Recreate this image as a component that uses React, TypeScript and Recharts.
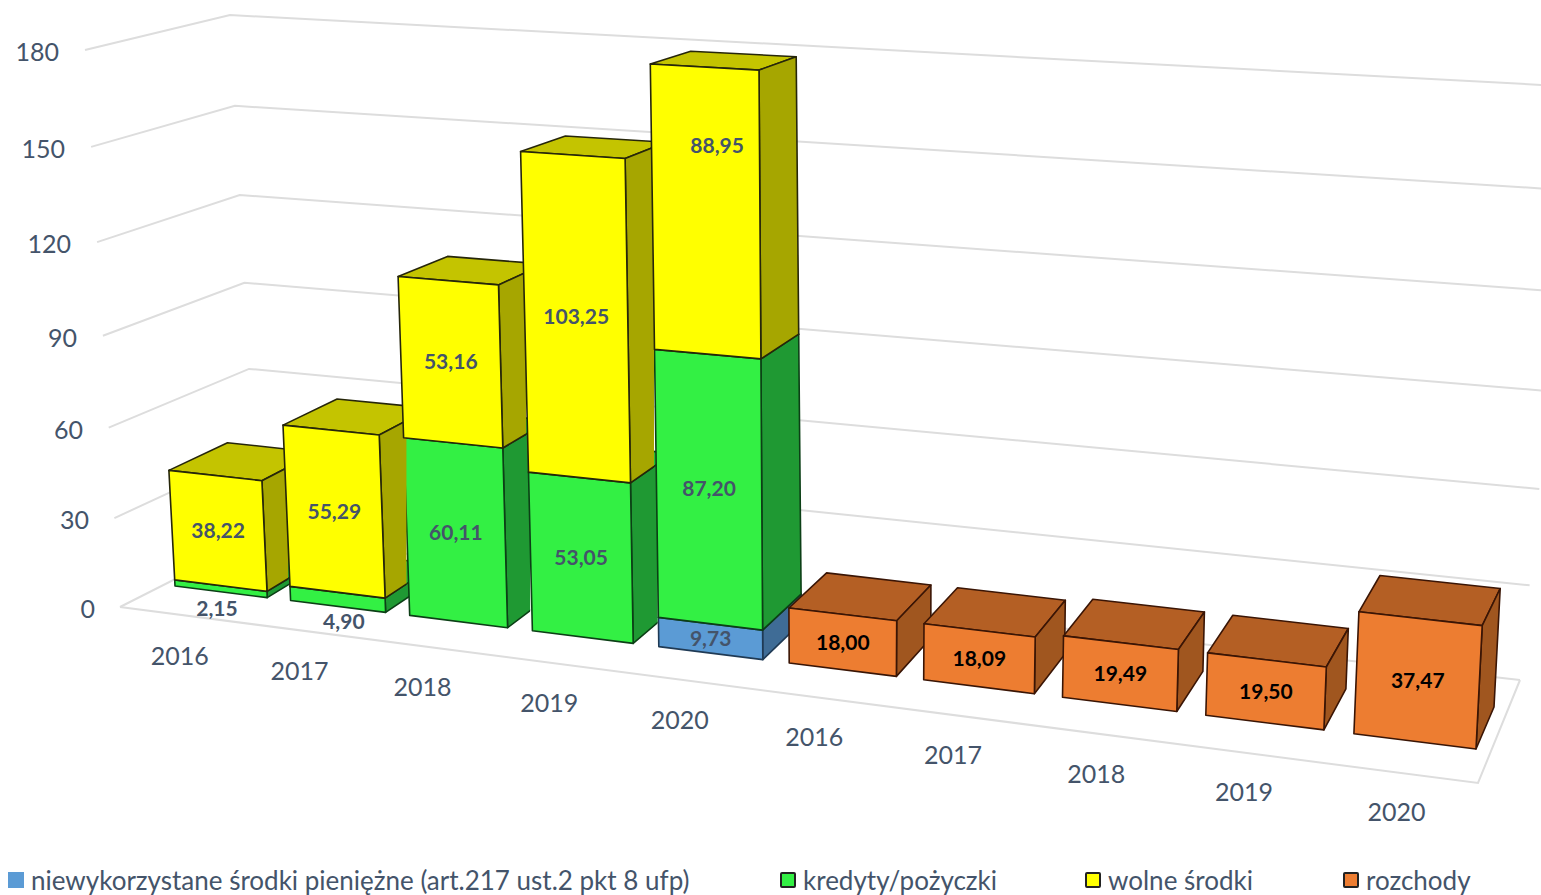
import React from 'react';
import { BarChart, Bar, XAxis, YAxis, CartesianGrid, Legend } from 'recharts';

const years = ['2016', '2017', '2018', '2019', '2020', '2016', '2017', '2018', '2019', '2020'];
const niewykorzystane = [null, null, null, null, 9.73, null, null, null, null, null];
const kredyty = [2.15, 4.9, 60.11, 53.05, 87.2, null, null, null, null, null];
const wolne = [38.22, 55.29, 53.16, 103.25, 88.95, null, null, null, null, null];
const rozchody = [null, null, null, null, null, 18.0, 18.09, 19.49, 19.5, 37.47];
const yTicks = [0, 30, 60, 90, 120, 150, 180];

const data = years.map((year, i) => ({
  year,
  niewykorzystane: niewykorzystane[i],
  kredyty: kredyty[i],
  wolne: wolne[i],
  rozchody: rozchody[i],
}));

const TEXT = '#44546A';
const GRID = '#DDDDDD';
const FONT = 'Lato, "Open Sans", sans-serif';

// flat plot area of the chart (what the recharts scales give us)
const PLOT_LEFT = 114;
const PLOT_WIDTH = 1372;
const PLOT_BOTTOM = 608;
const PLOT_HEIGHT = 556; // 0..180

type Pt = [number, number];

// square -> quad projective map, corners: bottom left, bottom right, top right, top left
const makeHomography = ([p0, p1, p2, p3]: Pt[]) => {
  const dx1 = p1[0] - p2[0];
  const dx2 = p3[0] - p2[0];
  const sx = p0[0] - p1[0] + p2[0] - p3[0];
  const dy1 = p1[1] - p2[1];
  const dy2 = p3[1] - p2[1];
  const sy = p0[1] - p1[1] + p2[1] - p3[1];
  const den = dx1 * dy2 - dx2 * dy1;
  const g = (sx * dy2 - dx2 * sy) / den;
  const h = (dx1 * sy - sx * dy1) / den;
  const a = p1[0] - p0[0] + g * p1[0];
  const b = p3[0] - p0[0] + h * p3[0];
  const d = p1[1] - p0[1] + g * p1[1];
  const e = p3[1] - p0[1] + h * p3[1];
  return (x: number, y: number): Pt => {
    const s = (x - PLOT_LEFT) / PLOT_WIDTH;
    const t = (PLOT_BOTTOM - y) / PLOT_HEIGHT;
    const w = g * s + h * t + 1;
    return [(a * s + b * t + p0[0]) / w, (d * s + e * t + p0[1]) / w];
  };
};

const front = makeHomography([[175, 586], [1476, 749], [1507, 133], [147, 54]]);
const back = makeHomography([[234, 553], [1494, 707], [1525, 114], [204, 44]]);

// walls: one edge per corner of the room, bottom -> top
const wallEdges: [Pt, Pt][] = [
  [[120, 607], [85, 50]],
  [[258, 537], [230, 15]],
  [[1520, 680], [1580, 87]],
];
const warp = (t: number) => (t * 0.95) / (1 - 0.05 * t);
const wallPoint = (edge: [Pt, Pt], flatY: number): Pt => {
  const t = warp((PLOT_BOTTOM - flatY) / PLOT_HEIGHT);
  return [edge[0][0] + (edge[1][0] - edge[0][0]) * t, edge[0][1] + (edge[1][1] - edge[0][1]) * t];
};

const pts = (list: Pt[]) => list.map((p) => `${p[0].toFixed(1)},${p[1].toFixed(1)}`).join(' ');

const GridLine = (props: any) => {
  const { y1, index } = props;
  const line = wallEdges.map((edge) => wallPoint(edge, y1));
  const isFloor = Math.abs(y1 - PLOT_BOTTOM) < 1;
  return (
    <g key={`grid-${index}`}>
      <polyline points={pts(line)} fill="none" stroke={GRID} strokeWidth={2} />
      {isFloor && <polyline points={pts([[120, 607], [1478, 783], [1520, 680]])} fill="none" stroke={GRID} strokeWidth={2} />}
    </g>
  );
};

const YTick = (props: any) => {
  const { y, payload } = props;
  const [, py] = wallPoint(wallEdges[0], y);
  return (
    <text x={95 - payload.value * 0.2} y={py + 1} textAnchor="end" dominantBaseline="central" fontSize={25} fontFamily={FONT} fill={TEXT}>
      {payload.value}
    </text>
  );
};

const XTick = (props: any) => {
  const { x, payload } = props;
  const [px, py] = front(x, PLOT_BOTTOM);
  const f = (x - PLOT_LEFT) / PLOT_WIDTH;
  return (
    <text x={px - 42 + 25 * f} y={py + 63 + 7 * f} textAnchor="middle" dominantBaseline="central" fontSize={25} fontFamily={FONT} fill={TEXT}>
      {payload.value}
    </text>
  );
};

interface Face {
  front: string;
  top: string;
  side: string;
  stroke: string;
  label: string;
}

// labels the original placed away from the middle of their face
const labelNudge: Record<string, Pt> = {
  'kredyty-0': [-4, 10],
  'kredyty-1': [6, 8],
  'wolne-4': [11, -66],
};

const makeBox = (key: string, face: Face, clip: boolean) => (props: any) => {
  const { x, y, width, height, index, payload } = props;
  const value = payload[key];
  if (value == null || !(height > 0)) return <g />;
  const r = x + width;
  const b = y + height;
  const fbl = front(x, b);
  const fbr = front(r, b);
  const ftr = front(r, y);
  const ftl = front(x, y);
  const bbr = back(r, b);
  const btr = back(r, y);
  const btl = back(x, y);
  const cx = (fbl[0] + fbr[0] + ftr[0] + ftl[0]) / 4;
  const cy = (fbl[1] + fbr[1] + ftr[1] + ftl[1]) / 4;
  const nudge = labelNudge[`${key}-${index}`] || [0, -1];
  const clipId = `clip-${key}-${index}`;
  // the next stack stands in front of this one's side face
  const useClip = clip && index < 4;
  const nextLeft = (front(x + 140, b)[0] + front(x + 140, y)[0]) / 2;
  const sw = 1.6;
  return (
    <g>
      {useClip && (
        <clipPath id={clipId}>
          <rect x={0} y={0} width={nextLeft} height={895} />
        </clipPath>
      )}
      <g clipPath={useClip ? `url(#${clipId})` : undefined}>
        <polygon points={pts([ftl, ftr, btr, btl])} fill={face.top} stroke={face.stroke} strokeWidth={sw} strokeLinejoin="round" />
        <polygon points={pts([fbr, bbr, btr, ftr])} fill={face.side} stroke={face.stroke} strokeWidth={sw} strokeLinejoin="round" />
      </g>
      <polygon points={pts([fbl, fbr, ftr, ftl])} fill={face.front} stroke={face.stroke} strokeWidth={sw} strokeLinejoin="round" />
      <text
        x={cx + nudge[0]}
        y={(value < 6 ? fbr[1] : cy) + nudge[1]}
        textAnchor="middle"
        dominantBaseline="central"
        fontSize={21}
        fontWeight={700}
        fontFamily={FONT}
        fill={face.label}
      >
        {value.toFixed(2).replace('.', ',')}
      </text>
    </g>
  );
};

const blueFace: Face = { front: '#5B9BD5', top: '#4A7FB0', side: '#3F6C96', stroke: '#1F3A55', label: TEXT };
const greenFace: Face = { front: '#33F044', top: '#28BF36', side: '#1F9933', stroke: '#0C3F16', label: TEXT };
const yellowFace: Face = { front: '#FFFF00', top: '#C4C400', side: '#A6A600', stroke: '#26260A', label: TEXT };
const orangeFace: Face = { front: '#ED7D31', top: '#B45F24', side: '#A0561F', stroke: '#3A1505', label: '#000000' };

const legendX = [8, 780, 1085, 1343];

const LegendContent = (props: any) => {
  const { payload } = props;
  return (
    <div style={{ position: 'relative', width: 1541, height: 40 }}>
      {(payload || []).map((item: any, i: number) => (
        <div key={item.value} style={{ position: 'absolute', left: legendX[i], top: 10, height: 30, display: 'flex', alignItems: 'center', whiteSpace: 'nowrap' }}>
          <span
            style={{
              display: 'inline-block',
              boxSizing: 'border-box',
              width: 16,
              height: 16,
              marginRight: 7,
              background: item.color,
              border: i === 0 ? 'none' : '2px solid #222',
              borderRadius: i === 0 ? 0 : 2,
            }}
          />
          <span style={{ fontFamily: FONT, fontSize: 26, color: TEXT }}>{item.value}</span>
        </div>
      ))}
    </div>
  );
};

export default function App() {
  return (
    <div style={{ position: 'absolute', left: 0, top: 0, width: 1541, height: 895, overflow: 'hidden', background: '#fff' }}>
      <BarChart
        width={1541}
        height={895}
        data={data}
        barCategoryGap="10%"
        margin={{ top: 33.5, right: 41, bottom: 207, left: 0 }}
      >
        <CartesianGrid vertical={false} horizontal={GridLine} syncWithTicks />
        <XAxis dataKey="year" height={40} interval={0} axisLine={false} tickLine={false} tick={<XTick />} />
        <YAxis width={100} domain={[0, 186]} ticks={yTicks} axisLine={false} tickLine={false} tick={<YTick />} />
        <Legend
          height={40}
          verticalAlign="bottom"
          itemSorter={null}
          content={<LegendContent />}
          wrapperStyle={{ left: 0, bottom: 0, width: 1541, height: 40 }}
        />
        <Bar dataKey="niewykorzystane" name="niewykorzystane środki pieniężne (art.217 ust.2 pkt 8 ufp)" stackId="a" fill="#5B9BD5" shape={makeBox('niewykorzystane', blueFace, true)} isAnimationActive={false} />
        <Bar dataKey="kredyty" name="kredyty/pożyczki" stackId="a" fill="#33F044" shape={makeBox('kredyty', greenFace, true)} isAnimationActive={false} />
        <Bar dataKey="wolne" name="wolne środki" stackId="a" fill="#FFFF00" shape={makeBox('wolne', yellowFace, true)} isAnimationActive={false} />
        <Bar dataKey="rozchody" name="rozchody" stackId="a" fill="#ED7D31" shape={makeBox('rozchody', orangeFace, false)} isAnimationActive={false} />
      </BarChart>
    </div>
  );
}
